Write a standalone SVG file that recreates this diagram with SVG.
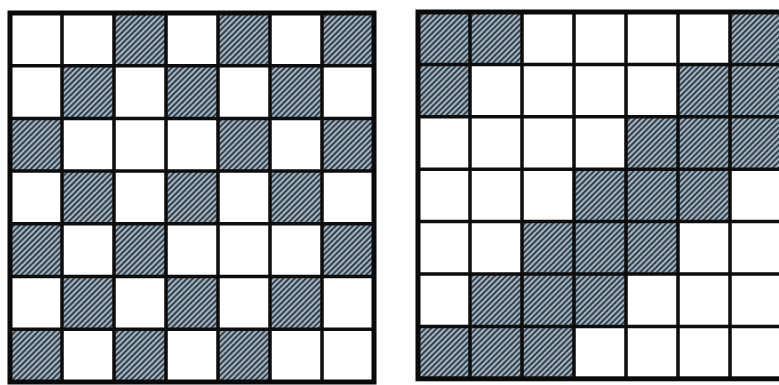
<svg xmlns="http://www.w3.org/2000/svg" width="779" height="385" viewBox="0 0 779 385">
<defs>
<pattern id="hatch" patternUnits="userSpaceOnUse" width="4" height="4" patternTransform="rotate(45)">
<rect width="4" height="4" fill="#a3b2bd"/>
<rect x="0" y="0" width="2" height="4" fill="#33434f"/>
</pattern>
</defs>
<style>
.s{fill:url(#hatch)}
.g{fill:none;stroke:#0d0d0d;stroke-width:3.5}
.b{fill:none;stroke:#0a0a0a;stroke-width:5}
</style>
<rect width="779" height="385" fill="#ffffff"/>
<g id="left-grid" transform="translate(10,13)">
<g id="left-shaded">
<rect class="s" x="104" y="0" width="52" height="52.7"/>
<rect class="s" x="208" y="0" width="52" height="52.7"/>
<rect class="s" x="312" y="0" width="52" height="52.7"/>
<rect class="s" x="52" y="52.7" width="52" height="52.7"/>
<rect class="s" x="156" y="52.7" width="52" height="52.7"/>
<rect class="s" x="260" y="52.7" width="52" height="52.7"/>
<rect class="s" x="0" y="105.4" width="52" height="52.7"/>
<rect class="s" x="208" y="105.4" width="52" height="52.7"/>
<rect class="s" x="312" y="105.4" width="52" height="52.7"/>
<rect class="s" x="52" y="158.1" width="52" height="52.7"/>
<rect class="s" x="156" y="158.1" width="52" height="52.7"/>
<rect class="s" x="260" y="158.1" width="52" height="52.7"/>
<rect class="s" x="0" y="210.8" width="52" height="52.7"/>
<rect class="s" x="104" y="210.8" width="52" height="52.7"/>
<rect class="s" x="312" y="210.8" width="52" height="52.7"/>
<rect class="s" x="52" y="263.5" width="52" height="52.7"/>
<rect class="s" x="156" y="263.5" width="52" height="52.7"/>
<rect class="s" x="260" y="263.5" width="52" height="52.7"/>
<rect class="s" x="0" y="316.2" width="52" height="52.7"/>
<rect class="s" x="104" y="316.2" width="52" height="52.7"/>
<rect class="s" x="208" y="316.2" width="52" height="52.7"/>
</g>
<path class="g" d="M52 0V369M104 0V369M156 0V369M208 0V369M260 0V369M312 0V369M0 52.7H364M0 105.4H364M0 158.1H364M0 210.8H364M0 263.5H364M0 316.2H364"/>
<rect class="b" x="0" y="0" width="364" height="369"/>
</g>
<g id="right-grid" transform="translate(418,12)">
<g id="right-shaded">
<rect class="s" x="0" y="0" width="52" height="52.4"/>
<rect class="s" x="52" y="0" width="52" height="52.4"/>
<rect class="s" x="312" y="0" width="52" height="52.4"/>
<rect class="s" x="0" y="52.4" width="52" height="52.4"/>
<rect class="s" x="260" y="52.4" width="52" height="52.4"/>
<rect class="s" x="312" y="52.4" width="52" height="52.4"/>
<rect class="s" x="208" y="104.8" width="52" height="52.4"/>
<rect class="s" x="260" y="104.8" width="52" height="52.4"/>
<rect class="s" x="312" y="104.8" width="52" height="52.4"/>
<rect class="s" x="156" y="157.2" width="52" height="52.4"/>
<rect class="s" x="208" y="157.2" width="52" height="52.4"/>
<rect class="s" x="260" y="157.2" width="52" height="52.4"/>
<rect class="s" x="104" y="209.6" width="52" height="52.4"/>
<rect class="s" x="156" y="209.6" width="52" height="52.4"/>
<rect class="s" x="208" y="209.6" width="52" height="52.4"/>
<rect class="s" x="52" y="262" width="52" height="52.4"/>
<rect class="s" x="104" y="262" width="52" height="52.4"/>
<rect class="s" x="156" y="262" width="52" height="52.4"/>
<rect class="s" x="0" y="314.4" width="52" height="52.4"/>
<rect class="s" x="52" y="314.4" width="52" height="52.4"/>
<rect class="s" x="104" y="314.4" width="52" height="52.4"/>
</g>
<path class="g" d="M52 0V366.8M104 0V366.8M156 0V366.8M208 0V366.8M260 0V366.8M312 0V366.8M0 52.4H364M0 104.8H364M0 157.2H364M0 209.6H364M0 262H364M0 314.4H364"/>
<rect class="b" x="0" y="0" width="364" height="366.8"/>
</g>
</svg>
